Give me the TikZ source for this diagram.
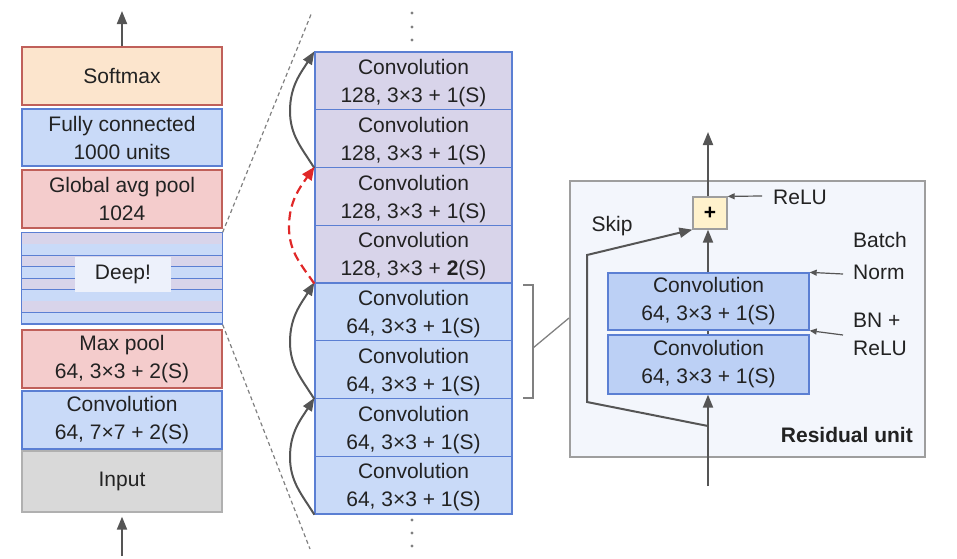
\documentclass[tikz,border=0pt]{standalone}
\usepackage{fontspec}
\setmainfont{Liberation Sans}
\usetikzlibrary{arrows.meta}
\definecolor{bluef}{HTML}{C9DAF8}
\definecolor{blued}{HTML}{5B7FD3}
\definecolor{purf}{HTML}{D8D4EA}
\definecolor{redf}{HTML}{F4CCCC}
\definecolor{redd}{HTML}{C0605A}
\definecolor{orf}{HTML}{FCE5CD}
\definecolor{grayf}{HTML}{D9D9D9}
\definecolor{grayd}{HTML}{B0B0B0}
\definecolor{resf}{HTML}{F3F6FC}
\definecolor{resd}{HTML}{9E9E9E}
\definecolor{innerf}{HTML}{BCD0F5}
\definecolor{plusf}{HTML}{FFF2CC}
\definecolor{arr}{HTML}{555555}
\definecolor{txt}{HTML}{222222}
\definecolor{redarr}{HTML}{E02828}
\definecolor{deeplblf}{HTML}{EDF1FB}
\begin{document}
\begin{tikzpicture}[x=1pt,y=-1pt,
  font=\fontsize{21}{28}\selectfont,
  layer/.style={draw, line width=1.3pt, align=center, inner sep=0pt, text=txt},
  lcol/.style={layer, minimum width=200pt},
  mcol/.style={layer, minimum width=197pt, minimum height=57.75pt, draw=blued, text depth=0pt},
  bluebox/.style={fill=bluef, draw=blued},
  purbox/.style={fill=purf, draw=blued},
  redbox/.style={fill=redf, draw=redd},
  flow/.style={draw=arr, line width=2pt, -{Triangle[length=13pt,width=10pt]}},
  thinarr/.style={draw=arr, line width=1.2pt, -{Triangle[length=7pt,width=6pt]}},
  zoomline/.style={draw=gray, line width=1.2pt, dash pattern=on 4pt off 3pt},
  lbl/.style={inner sep=0pt, text=txt, align=left}
]
\useasboundingbox (0,0) rectangle (957,558);

% ---------- left column ----------
\node[lcol, fill=orf, draw=redd, minimum height=58pt] (soft) at (122,76) {Softmax};
\node[lcol, bluebox, minimum height=57pt] (fc) at (122,137.5) {Fully connected\\1000 units};
\node[lcol, redbox, minimum height=58pt] (gap) at (122,199) {Global avg pool\\1024};
\node[lcol, draw=blued, minimum height=91pt] (deep) at (122,278.5) {};
\foreach \k in {0,...,7}{
  \pgfmathsetmacro{\ya}{233+\k*11.375}
  \pgfmathsetmacro{\yb}{233+(\k+1)*11.375}
  \ifodd\k
    \fill[bluef] (22,\ya) rectangle (222,\yb);
  \else
    \fill[purf] (22,\ya) rectangle (222,\yb);
  \fi
  \draw[blued, line width=1.5pt] (22,\yb) -- (222,\yb);
}
\draw[blued, line width=1.3pt] (deep.north west) rectangle (deep.south east);
\node[fill=deeplblf, minimum width=96pt, minimum height=35pt, inner sep=0pt, text=txt] (deeplbl) at (123,274.5) {Deep!};
\node[lcol, redbox, minimum height=58pt] (maxp) at (122,359) {Max pool\\64, 3×3 + 2(S)};
\node[lcol, bluebox, minimum height=58pt] (conv7) at (122,420) {Convolution\\64, 7×7 + 2(S)};
\node[lcol, fill=grayf, draw=grayd, minimum height=61pt] (input) at (122,481.5) {Input};

\coordinate (outtop) at (122,11);
\coordinate (inbot) at (122,556);
\draw[flow] (soft.north) -- (outtop);
\draw[flow] (inbot) -- ([yshift=-4pt]input.south);

% ---------- middle column ----------
\node[mcol, purbox] (m1) at (413.5,80.9) {Convolution\\128, 3×3 + 1(S)};
\node[mcol, purbox] (m2) at (413.5,138.6) {Convolution\\128, 3×3 + 1(S)};
\node[mcol, purbox] (m3) at (413.5,196.4) {Convolution\\128, 3×3 + 1(S)};
\node[mcol, purbox] (m4) at (413.5,254.1) {Convolution\\128, 3×3 + \textbf{2}(S)};
\node[mcol, bluebox] (m5) at (413.5,311.9) {Convolution\\64, 3×3 + 1(S)};
\node[mcol, bluebox] (m6) at (413.5,369.6) {Convolution\\64, 3×3 + 1(S)};
\node[mcol, bluebox] (m7) at (413.5,427.4) {Convolution\\64, 3×3 + 1(S)};
\node[mcol, bluebox] (m8) at (413.5,485.1) {Convolution\\64, 3×3 + 1(S)};

% dots
\foreach \y in {13,27,40,520,533,546}{
  \fill[gray] (412,\y) circle (1.6pt);
}

% zoom lines
\coordinate (ztop) at (312,12);
\coordinate (zbot) at (310,549);
\draw[zoomline] (deep.north east) -- (ztop);
\draw[zoomline] (deep.south east) -- (zbot);

% skip arrows in middle column
\draw[flow] (m8.south west) to[out=122,in=-90] (290,457) to[out=90,in=-122] (m7.north west);
\draw[flow] (m6.south west) to[out=122,in=-90] (290,342) to[out=90,in=-122] (m5.north west);
\draw[flow] (m2.south west) to[out=122,in=-90] (290,111) to[out=90,in=-122] (m1.north west);
\draw[draw=redarr, line width=2.2pt, dash pattern=on 9pt off 5pt, -{Triangle[length=13pt,width=11pt]}]
  (m4.south west) to[out=125,in=-90] (289,227) to[out=90,in=-125] (m3.north west);

% bracket
\coordinate (bt) at (523,285);
\coordinate (bb) at (523,398);
\coordinate (bm) at (533,348);
\draw[gray, line width=1.3pt] (bt) -- (533,285) -- (533,398) -- (bb);

% ---------- residual unit ----------
\node[draw=resd, fill=resf, line width=1.6pt, minimum width=355pt, minimum height=276pt, inner sep=0pt] (res) at (747.5,319) {};
\draw[gray, line width=1.3pt] (bm) -- (569,318);

\node[layer, fill=innerf, draw=blued, minimum width=201pt, minimum height=57pt] (rc1) at (708.5,301.5) {Convolution\\64, 3×3 + 1(S)};
\node[layer, fill=innerf, draw=blued, minimum width=201pt, minimum height=59pt] (rc2) at (708.5,364.5) {Convolution\\64, 3×3 + 1(S)};
\node[draw=resd, fill=plusf, line width=1.3pt, minimum width=34pt, minimum height=32pt, inner sep=0pt, font=\fontsize{21}{21}\selectfont\bfseries] (plus) at (710,213) {+};

\coordinate (resin) at (708,486);
\coordinate (resout) at (708,132);
\coordinate (skipstart) at (708,426);
\coordinate (skipa) at (587,402);
\coordinate (skipb) at (587,255);

\draw[flow] (resin) -- (rc2.south -| resin);
\draw[arr, line width=2pt] (rc2.north -| resin) -- (rc1.south -| resin);
\draw[flow] (rc1.north -| resin) -- (plus.south -| resin);
\draw[flow] (plus.north -| resin) -- (resout);
\draw[flow] (skipstart) -- (skipa) -- (skipb) -- (plus.south west);

\node[lbl, anchor=center] (skip) at (612,226) {Skip};
\node[lbl, anchor=west] (relu) at (773,197) {ReLU};
\coordinate (reluarr) at (762,196);
\draw[thinarr] (reluarr) -- (plus.north east);
\node[lbl, anchor=west, font=\fontsize{21}{32}\selectfont] (bn) at (853,256) {Batch\\Norm};
\node[lbl, anchor=west, font=\fontsize{21}{28}\selectfont] (bnr) at (853,334) {BN +\\ReLU};
\coordinate (bnarr) at (843,274);
\coordinate (bnrarr) at (843,335);
\draw[thinarr] (bnarr) -- (rc1.north east);
\draw[thinarr] (bnrarr) -- (rc1.south east);
\node[lbl, anchor=east, font=\fontsize{21}{21}\selectfont\bfseries] (resl) at (913,435) {Residual unit};
\end{tikzpicture}
\end{document}
